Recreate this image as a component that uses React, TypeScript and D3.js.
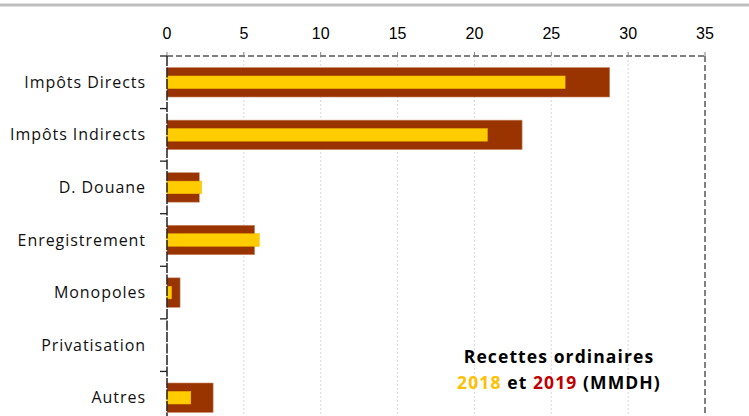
import React from "react";
import * as d3 from "d3";

const categories = ["Impôts Directs", "Impôts Indirects", "D. Douane", "Enregistrement", "Monopoles", "Privatisation", "Autres"];
const values2019 = [28.8, 23.1, 2.1, 5.7, 0.85, 0, 3.0];
const values2018 = [25.9, 20.85, 2.25, 6.0, 0.3, 0, 1.55];
const xTicks = [0, 5, 10, 15, 20, 25, 30, 35];

export default function App() {
  const W = 749, H = 416;
  const left = 167, right = 705, top = 56, bottom = 424;
  const x = d3.scaleLinear().domain([0, 35]).range([left, right]);
  const y = d3.scaleBand<string>().domain(categories).range([top, bottom]);
  const bw = y.bandwidth();
  const darkH = bw * 0.56;
  const yelH = bw * 0.24;
  const boundaries = d3.range(categories.length + 1).map(i => top + i * bw);
  const font = "'Open Sans', sans-serif";
  return (
    <svg width={W} height={H} style={{ position: "absolute", left: 0, top: 0, background: "#fff" }}>
      <rect x={0} y={3.5} width={W} height={3} fill="#bdbdbd" />
      {xTicks.slice(1, -1).map(t => (
        <line key={"g" + t} x1={x(t)} x2={x(t)} y1={top} y2={bottom} stroke="#d9d9d9" strokeDasharray="2,2" strokeWidth={1} />
      ))}
      {categories.map((c, i) => {
        const cy = (y(c) as number) + bw / 2;
        return (
          <g key={c}>
            {values2019[i] > 0 && (
              <rect x={x(0)} y={cy - darkH / 2} width={x(values2019[i]) - x(0)} height={darkH} fill="#993300" stroke="#c98a6a" strokeWidth={0.6} />
            )}
            {values2018[i] > 0 && (
              <rect x={x(0)} y={cy - yelH / 2} width={x(values2018[i]) - x(0)} height={yelH} fill="#FFCC00" stroke="#f0b800" strokeWidth={0.5} />
            )}
            <text x={146} y={cy} dy="0.35em" textAnchor="end" fontFamily={font} fontSize={16} letterSpacing={0.95} fill="#111">{c}</text>
          </g>
        );
      })}
      <line x1={left} x2={right} y1={top} y2={top} stroke="#808080" strokeWidth={2} strokeDasharray="6,3" />
      <line x1={right} x2={right} y1={top} y2={bottom} stroke="#808080" strokeWidth={2} strokeDasharray="6,3" />
      <line x1={left} x2={left} y1={top} y2={bottom} stroke="#222" strokeWidth={1.5} strokeDasharray="10,1.5" />
      {xTicks.map(t => (
        <g key={"t" + t}>
          <line x1={x(t)} x2={x(t)} y1={top - 4} y2={top} stroke="#808080" strokeWidth={1} />
          <text x={x(t)} y={33} dy="0.35em" textAnchor="middle" fontFamily="'Liberation Sans', Arial, sans-serif" fontSize={16} fill="#000">{t}</text>
        </g>
      ))}
      {boundaries.map((b, i) => (
        <line key={"b" + i} x1={left - 7} x2={left} y1={b} y2={b} stroke="#222" strokeWidth={1.3} />
      ))}
      <text x={559} y={357} dy="0.35em" textAnchor="middle" fontFamily={font} fontWeight="bold" fontSize={17.5} letterSpacing={1.1} fill="#000">Recettes ordinaires</text>
      <text x={559} y={383} dy="0.35em" textAnchor="middle" fontFamily={font} fontWeight="bold" fontSize={17.5} letterSpacing={1.1} fill="#000">
        <tspan fill="#FFC000">2018</tspan> et <tspan fill="#C00000">2019</tspan> (MMDH)
      </text>
    </svg>
  );
}
